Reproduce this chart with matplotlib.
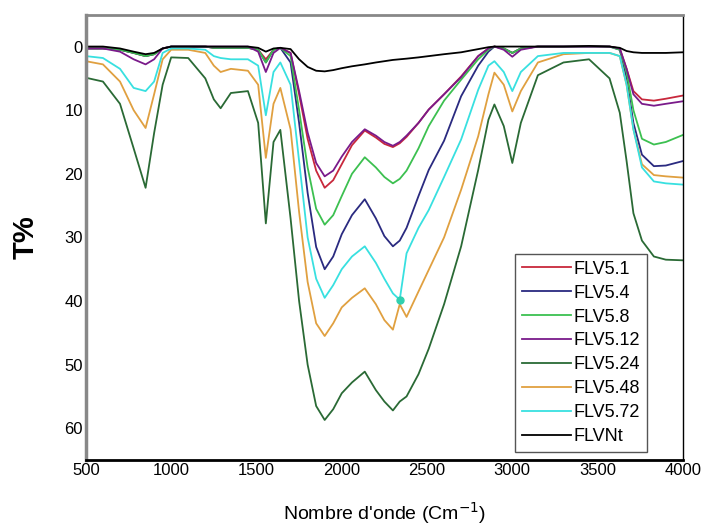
import matplotlib
matplotlib.use("Agg")
import matplotlib.pyplot as plt

plt.rcParams['font.family'] = ['Liberation Sans', 'DejaVu Sans']

# wavenumber grid (cm-1)
wn = [500, 600, 700, 780, 850, 900, 950, 1000, 1100, 1200,
      1250, 1290, 1350, 1450, 1510, 1555, 1600, 1640, 1700, 1750,
      1800, 1850, 1900, 1950, 2000, 2060, 2135, 2200, 2250, 2300,
      2340, 2380, 2450, 2510, 2600, 2700, 2800, 2860, 2895, 2950,
      3000, 3050, 3150, 3300, 3450, 3570, 3630, 3670, 3710, 3760,
      3830, 3900, 4000]

flv5_1 = [0.3, 0.3, 0.5, 1.0, 1.5, 1.2, 0.3, 0.0, 0.0, 0.0,
          0.2, 0.2, 0.2, 0.2, 0.5, 2.0, 0.5, 0.2, 1.0, 7.5,
          14.5, 19.5, 22.2, 21.0, 18.5, 15.5, 13.2, 14.3, 15.3, 15.8,
          15.2, 14.2, 12.0, 9.9, 7.5, 4.7, 1.5, 0.3, 0.0, 0.3,
          1.0, 0.3, 0.0, 0.0, 0.0, 0.0, 0.3, 3.5, 7.0, 8.3,
          8.5, 8.2, 7.7]

flv5_4 = [0.3, 0.3, 0.5, 1.0, 1.5, 1.2, 0.3, 0.0, 0.0, 0.0,
          0.2, 0.2, 0.2, 0.2, 0.5, 2.5, 0.5, 0.2, 2.5, 12.0,
          23.0, 31.5, 35.0, 33.0, 29.5, 26.5, 24.0, 27.0, 29.8, 31.4,
          30.5, 28.5, 23.5, 19.4, 14.8, 7.8, 3.0, 0.8, 0.0, 0.3,
          1.0, 0.3, 0.0, 0.0, 0.0, 0.0, 0.5, 5.0, 12.0, 17.0,
          18.8, 18.7, 18.0]

flv5_8 = [0.3, 0.3, 0.5, 1.0, 1.5, 1.2, 0.3, 0.0, 0.0, 0.0,
          0.2, 0.2, 0.2, 0.2, 0.5, 2.5, 0.5, 0.2, 1.5, 10.0,
          19.0, 25.5, 28.0, 26.5, 23.5, 20.0, 17.4, 19.0, 20.5, 21.5,
          20.8, 19.5, 16.0, 12.5, 8.5, 5.2, 2.0, 0.5, 0.0, 0.3,
          1.0, 0.3, 0.0, 0.0, 0.0, 0.0, 0.5, 4.0, 10.0, 14.5,
          15.4, 15.0, 13.9]

flv5_12 = [0.3, 0.3, 0.8, 2.0, 2.8, 2.0, 0.3, 0.0, 0.0, 0.0,
           0.0, 0.0, 0.0, 0.0, 0.8, 4.0, 1.0, 0.2, 1.0, 7.0,
           13.5, 18.3, 20.4, 19.5, 17.3, 15.0, 13.0, 14.0, 15.0, 15.6,
           15.0, 14.0, 12.0, 9.9, 7.5, 4.8, 1.5, 0.3, 0.0, 0.5,
           1.6, 0.5, 0.0, 0.0, 0.0, 0.0, 0.3, 3.5, 7.5, 9.0,
           9.3, 9.0, 8.6]

flv5_24 = [4.9, 5.5, 9.0, 16.0, 22.2, 13.6, 6.0, 1.7, 1.8, 5.0,
           8.3, 9.7, 7.3, 7.0, 12.0, 27.8, 15.0, 13.1, 27.0, 40.0,
           50.0, 56.5, 58.7, 57.0, 54.5, 52.8, 51.1, 54.0, 55.8, 57.2,
           55.8, 55.0, 51.5, 47.5, 40.5, 31.4, 19.4, 11.5, 9.1, 12.5,
           18.3, 12.0, 4.5, 2.5, 2.0, 5.0, 10.4, 18.0, 26.2, 30.5,
           33.0, 33.5, 33.6]

flv5_48 = [2.3, 2.8, 5.5, 10.0, 12.8, 7.5, 2.0, 0.5, 0.5, 1.0,
           3.0, 4.0, 3.5, 3.8, 6.0, 17.5, 9.0, 6.5, 13.0, 26.0,
           37.0, 43.5, 45.5, 43.5, 41.0, 39.5, 38.0, 40.5, 43.0, 44.5,
           40.5, 42.5, 38.5, 35.1, 30.0, 22.5, 14.1, 7.5, 4.1, 6.0,
           10.2, 7.0, 2.5, 1.2, 1.0, 1.0, 1.5, 6.0, 13.0, 18.5,
           20.2, 20.4, 20.6]

flv5_72 = [1.5, 1.8, 3.5, 6.5, 7.0, 5.5, 1.0, 0.3, 0.3, 0.5,
           1.5, 1.8, 2.0, 2.0, 3.0, 10.8, 4.0, 2.5, 6.0, 18.0,
           30.0, 36.5, 39.5, 37.5, 35.0, 33.0, 31.4, 34.0, 36.5, 38.8,
           39.8, 32.5, 28.5, 25.7, 20.5, 14.6, 6.8, 3.0, 2.3, 4.0,
           7.0, 4.0, 1.5, 1.0, 1.0, 1.0, 1.5, 6.0, 13.0, 19.0,
           21.2, 21.5, 21.7]

flvnt = [0.0, 0.0, 0.3, 0.8, 1.2, 1.0, 0.3, 0.0, 0.0, 0.0,
         0.0, 0.0, 0.0, 0.0, 0.2, 0.8, 0.3, 0.2, 0.4, 2.0,
         3.2, 3.8, 3.9, 3.7, 3.4, 3.1, 2.8, 2.5, 2.3, 2.1,
         2.0, 1.9, 1.7, 1.5, 1.2, 0.9, 0.4, 0.1, 0.0, 0.0,
         0.0, 0.0, 0.0, 0.0, -0.1, 0.0, 0.2, 0.7, 0.9, 1.0,
         1.0, 1.0, 0.9]

labels = ['FLV5.1', 'FLV5.4', 'FLV5.8', 'FLV5.12', 'FLV5.24', 'FLV5.48', 'FLV5.72', 'FLVNt']
series = [flv5_1, flv5_4, flv5_8, flv5_12, flv5_24, flv5_48, flv5_72, flvnt]
colors = ['#c8283c', '#2a2a80', '#3cc050', '#7a1a8a', '#2a6a35', '#e0a040', '#38e0e0', '#000000']

fig = plt.figure(figsize=(7.04, 5.27), dpi=100)
ax = fig.add_axes([0.122, 0.127, 0.848, 0.845])

for lab, vals, c in zip(labels, series, colors):
    ax.plot(wn, vals, color=c, lw=1.3, label=lab)

# little dot visible on the cyan trace
i_dot = wn.index(2340)
ax.plot(wn[i_dot], flv5_72[i_dot], 'o', ms=5, color='#30d0b0')

ax.set_xlim(500, 4000)
ax.set_ylim(65, -5)
ax.set_xticks([500, 1000, 1500, 2000, 2500, 3000, 3500, 4000])
ax.set_yticks([0, 10, 20, 30, 40, 50, 60])
ax.tick_params(length=0, labelsize=12, pad=2)

ax.spines['left'].set_color('#888888')
ax.spines['left'].set_linewidth(2.5)
ax.spines['top'].set_color('#888888')
ax.spines['top'].set_linewidth(2)
ax.spines['bottom'].set_linewidth(2)
ax.spines['right'].set_linewidth(1)

ax.set_ylabel('T%', fontsize=21, fontweight='bold', labelpad=18)
ax.set_xlabel("Nombre d'onde (Cm$^{-1}$)", fontsize=14, labelpad=16)

leg = ax.legend(loc='lower right', bbox_to_anchor=(0.94, 0.018), fontsize=13,
                handlelength=2.7, handletextpad=0.15, labelspacing=0.38,
                borderpad=0.4, borderaxespad=0, fancybox=False, framealpha=1)
leg.get_frame().set_edgecolor('#555555')
leg.get_frame().set_linewidth(1)

fig.savefig('out.png', dpi=100)
